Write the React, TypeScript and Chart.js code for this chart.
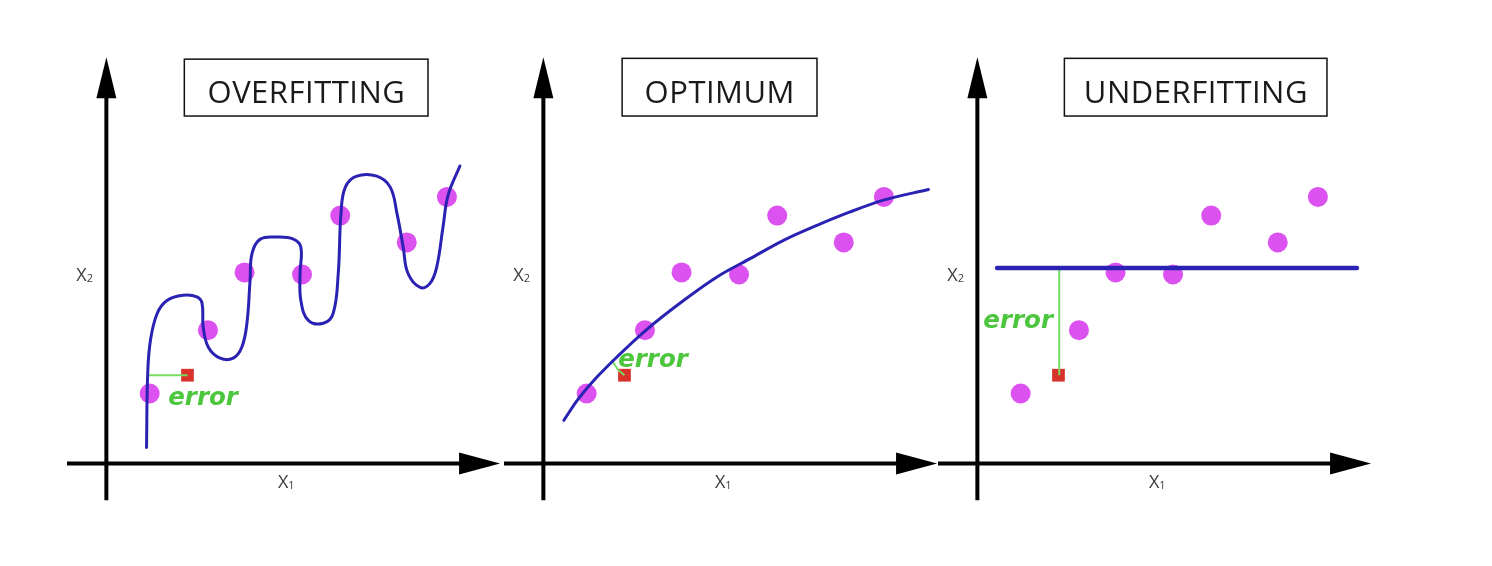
import React, { useEffect, useRef } from "react";
import { Chart, registerables } from "chart.js";

Chart.register(...registerables);

// ---------- DATA (units: origin at the axes crossing) ----------
const pointsX = [1.1, 2.58, 3.51, 4.97, 5.94, 7.63, 8.65];
const pointsY = [1.72, 3.28, 4.7, 4.65, 6.1, 5.44, 6.56];

const predictedX = [2.06];
const predictedY = [2.17];

const overfitX = [1.02, 1.05, 1.12, 1.29, 1.54, 1.95, 2.3, 2.43, 2.46, 2.59, 2.89, 3.22, 3.44, 3.57, 3.65, 3.7, 3.91, 4.33, 4.75, 4.94, 4.92, 4.94, 5.13, 5.51, 5.76, 5.89, 5.96, 6.07, 6.36, 6.87, 7.21, 7.38, 7.54, 7.66, 7.97, 8.22, 8.39, 8.55, 8.68, 8.98];
const overfitY = [0.39, 2.22, 3.03, 3.69, 4.01, 4.14, 4.1, 3.94, 3.35, 2.86, 2.59, 2.59, 2.86, 3.45, 4.51, 5.17, 5.52, 5.57, 5.52, 5.32, 4.68, 4.01, 3.52, 3.45, 3.69, 4.68, 6.16, 6.8, 7.07, 7.07, 6.8, 6.16, 5.32, 4.68, 4.33, 4.43, 4.83, 5.81, 6.6, 7.32];

const optimumX = [0.52, 0.86, 1.28, 1.87, 2.63, 3.56, 4.41, 5.25, 6.1, 6.95, 7.79, 8.64, 9.78];
const optimumY = [1.06, 1.55, 2.04, 2.62, 3.3, 4.01, 4.59, 5.04, 5.49, 5.86, 6.19, 6.48, 6.74];

const underfitX = [0.5, 9.64];
const underfitY = [4.81, 4.81];

const overfitErrX = [1.07, 2.06];
const overfitErrY = [2.17, 2.17];
const optimumErrX = [1.73, 1.9, 2.06];
const optimumErrY = [2.55, 2.3, 2.17];
const underfitErrX = [2.08, 2.08];
const underfitErrY = [4.8, 2.17];

const titles = ["OVERFITTING", "OPTIMUM", "UNDERFITTING"];
const xAxisLabel = ["X", "1"];
const yAxisLabel = ["X", "2"];
const errorLabel = "error";

// ---------- STYLE / LAYOUT ----------
const CURVE = "#2a22b2";
const DOT = "#dc52f0";
const RED = "#d8322b";
const GREEN_LINE = "#74dc60";
const GREEN_TEXT = "#4cc63c";

const X_MIN = -1.0;
const X_MAX = 10.1;
const Y_MIN = -1.0;
const Y_MAX = 10.2;
const CW = 437;
const CH = 455;
const TOP = 49;

type Panel = {
  left: number;
  title: string;
  box: [number, number, number, number]; // x0, x1, yTop, yBottom (units)
  errText: [number, number];
  curveX: number[];
  curveY: number[];
  curveWidth: number;
  curveTension: number;
  monotone: boolean;
  errX: number[];
  errY: number[];
};

const panels: Panel[] = [
  { left: 67, title: titles[0], box: [1.98, 8.17, 9.95, 8.55], errText: [1.57, 1.6], curveX: overfitX, curveY: overfitY, curveWidth: 3, curveTension: 0.4, monotone: false, errX: overfitErrX, errY: overfitErrY },
  { left: 504, title: titles[1], box: [2.0, 6.95, 9.97, 8.55], errText: [1.9, 2.52], curveX: optimumX, curveY: optimumY, curveWidth: 3, curveTension: 0.4, monotone: true, errX: optimumErrX, errY: optimumErrY },
  { left: 938, title: titles[2], box: [2.21, 8.88, 9.97, 8.55], errText: [0.15, 3.5], curveX: underfitX, curveY: underfitY, curveWidth: 4.5, curveTension: 0, monotone: false, errX: underfitErrX, errY: underfitErrY },
];

const zip = (xs: number[], ys: number[]) => xs.map((x, i) => ({ x, y: ys[i] }));

function drawSubLabel(ctx: any, parts: string[], cx: number, cy: number) {
  ctx.font = "18px 'Open Sans'";
  const w1 = ctx.measureText(parts[0]).width;
  ctx.font = "11px 'Open Sans'";
  const w2 = ctx.measureText(parts[1]).width;
  const x0 = cx - (w1 + w2) / 2;
  const base = cy + 6.5;
  ctx.textAlign = "left";
  ctx.textBaseline = "alphabetic";
  ctx.font = "18px 'Open Sans'";
  ctx.fillText(parts[0], x0, base);
  ctx.font = "11px 'Open Sans'";
  ctx.fillText(parts[1], x0 + w1, base + 1);
}

const decorPlugin = {
  id: "panelDecor",
  beforeDatasetsDraw(chart: any, _args: any, opts: any) {
    const { ctx } = chart;
    const xs = chart.scales.x;
    const ys = chart.scales.y;
    const ox = xs.getPixelForValue(0);
    const oy = ys.getPixelForValue(0);
    ctx.save();
    ctx.strokeStyle = "#000";
    ctx.fillStyle = "#000";
    ctx.lineWidth = 4;
    // y axis
    const yTip = ys.getPixelForValue(10);
    const yBot = ys.getPixelForValue(-0.91);
    ctx.beginPath();
    ctx.moveTo(ox, yBot);
    ctx.lineTo(ox, yTip + 30);
    ctx.stroke();
    ctx.beginPath();
    ctx.moveTo(ox, yTip);
    ctx.lineTo(ox - 10, yTip + 41);
    ctx.lineTo(ox + 10, yTip + 41);
    ctx.closePath();
    ctx.fill();
    // x axis
    const xTip = xs.getPixelForValue(10);
    const xStart = xs.getPixelForValue(-1.0);
    ctx.beginPath();
    ctx.moveTo(xStart, oy);
    ctx.lineTo(xTip - 30, oy);
    ctx.stroke();
    ctx.beginPath();
    ctx.moveTo(xTip, oy);
    ctx.lineTo(xTip - 41, oy - 11);
    ctx.lineTo(xTip - 41, oy + 11);
    ctx.closePath();
    ctx.fill();
    // axis labels
    ctx.fillStyle = "#3c3c3c";
    drawSubLabel(ctx, xAxisLabel, xs.getPixelForValue(4.57), ys.getPixelForValue(-0.45));
    drawSubLabel(ctx, yAxisLabel, xs.getPixelForValue(-0.55), ys.getPixelForValue(4.66));
    // title box
    const [bx0, bx1, byT, byB] = opts.box;
    const px0 = xs.getPixelForValue(bx0);
    const px1 = xs.getPixelForValue(bx1);
    const pyT = ys.getPixelForValue(byT);
    const pyB = ys.getPixelForValue(byB);
    ctx.strokeStyle = "#111";
    ctx.lineWidth = 1.5;
    ctx.strokeRect(px0, pyT, px1 - px0, pyB - pyT);
    ctx.fillStyle = "#1a1a1a";
    ctx.font = "31px 'Open Sans'";
    ctx.textAlign = "center";
    ctx.textBaseline = "alphabetic";
    try {
      ctx.letterSpacing = "0.5px";
    } catch (e) {}
    ctx.fillText(opts.title, (px0 + px1) / 2 + 0.25, pyB - 13);
    try {
      ctx.letterSpacing = "0px";
    } catch (e) {}
    ctx.restore();
  },
  afterDatasetsDraw(chart: any, _args: any, opts: any) {
    const { ctx } = chart;
    const xs = chart.scales.x;
    const ys = chart.scales.y;
    ctx.save();
    ctx.fillStyle = GREEN_TEXT;
    ctx.font = "italic bold 24.5px 'DejaVu Sans'";
    ctx.textAlign = "left";
    ctx.textBaseline = "middle";
    ctx.fillText(errorLabel, xs.getPixelForValue(opts.errText[0]), ys.getPixelForValue(opts.errText[1]));
    ctx.restore();
  },
};

function PanelChart({ panel }: { panel: Panel }) {
  const ref = useRef<HTMLCanvasElement | null>(null);
  useEffect(() => {
    if (!ref.current) return;
    const chart = new Chart(ref.current, {
      type: "scatter",
      data: {
        datasets: [
          {
            type: "line",
            data: zip(panel.curveX, panel.curveY),
            borderColor: CURVE,
            borderWidth: panel.curveWidth,
            borderCapStyle: "round",
            borderJoinStyle: "round",
            tension: panel.curveTension,
            cubicInterpolationMode: panel.monotone ? "monotone" : "default",
            pointRadius: 0,
            fill: false,
            order: 1,
          } as any,
          {
            type: "line",
            data: zip(panel.errX, panel.errY),
            borderColor: GREEN_LINE,
            borderWidth: 2,
            tension: 0,
            pointRadius: 0,
            fill: false,
            order: 2,
          } as any,
          {
            data: zip(predictedX, predictedY),
            pointStyle: "rect",
            pointRadius: 9,
            backgroundColor: RED,
            borderWidth: 0,
            order: 3,
          } as any,
          {
            data: zip(pointsX, pointsY),
            pointRadius: 10,
            backgroundColor: DOT,
            borderWidth: 0,
            order: 4,
          } as any,
        ],
      },
      options: {
        animation: false,
        responsive: false,
        devicePixelRatio: 1,
        layout: { padding: 0, autoPadding: false },
        scales: {
          x: { type: "linear", min: X_MIN, max: X_MAX, display: false },
          y: { type: "linear", min: Y_MIN, max: Y_MAX, display: false },
        },
        plugins: {
          legend: { display: false },
          tooltip: { enabled: false },
          panelDecor: { box: panel.box, title: panel.title, errText: panel.errText },
        } as any,
        events: [],
      } as any,
      plugins: [decorPlugin],
    });
    return () => chart.destroy();
  }, [panel]);
  return (
    <canvas
      ref={ref}
      width={CW}
      height={CH}
      style={{ position: "absolute", left: panel.left, top: TOP, width: CW, height: CH, display: "block" }}
    />
  );
}

export default function App() {
  return (
    <div style={{ position: "absolute", left: 0, top: 0, width: 1492, height: 566, background: "#fff" }}>
      {panels.map((p, i) => (
        <PanelChart key={i} panel={p} />
      ))}
    </div>
  );
}
